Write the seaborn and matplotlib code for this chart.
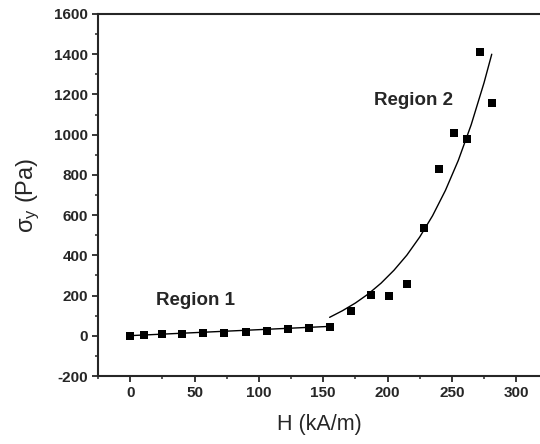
import matplotlib
matplotlib.use("Agg")
import matplotlib.pyplot as plt
from matplotlib.ticker import MultipleLocator
import seaborn as sns
import pandas as pd

# measured points, region 1
h_r1 = [0, 10.9, 24.6, 40.6, 56.7, 73, 89.9, 106.7, 123, 139, 155]
s_r1 = [0, 2.5, 7.5, 9, 12, 15, 19, 25, 32, 39, 45]

# measured points, region 2
h_r2 = [171.5, 187, 201.5, 215.5, 228.5, 240, 251.6, 262, 271.8, 281]
s_r2 = [125, 201, 200, 256, 538, 828, 1007, 980, 1410, 1159]

# fitted curves
h_fit1 = [0, 155]
s_fit1 = [1, 47]
h_fit2 = [155, 165, 175, 185, 195, 205, 215, 225, 235, 245, 255, 265, 275, 281]
s_fit2 = [92, 125, 163, 208, 262, 326, 401, 491, 597, 723, 872, 1049, 1258, 1400]

sns.set_style("ticks")
plt.rcParams['font.family'] = ['Liberation Sans', 'DejaVu Sans']
plt.rcParams['mathtext.fontset'] = 'custom'
plt.rcParams['mathtext.rm'] = 'Liberation Sans'
plt.rcParams['mathtext.it'] = 'Liberation Sans'
plt.rcParams['axes.unicode_minus'] = False

pts = pd.DataFrame({"H": h_r1 + h_r2, "s": s_r1 + s_r2})

fig = plt.figure(figsize=(5.4, 4.44), dpi=100)
ax = fig.add_axes([0.1815, 0.153, 0.8185, 0.8155])

sns.lineplot(x=h_fit1, y=s_fit1, ax=ax, color="black", linewidth=1.0)
sns.lineplot(x=h_fit2, y=s_fit2, ax=ax, color="black", linewidth=1.0)
sns.scatterplot(data=pts, x="H", y="s", ax=ax, marker="s", s=26,
                color="black", edgecolor="black", linewidth=0, zorder=3)

ax.set_xlim(-25, 318.5)
ax.set_ylim(-200, 1600)
ax.xaxis.set_major_locator(MultipleLocator(50))
ax.xaxis.set_minor_locator(MultipleLocator(25))
ax.yaxis.set_major_locator(MultipleLocator(200))
ax.yaxis.set_minor_locator(MultipleLocator(100))

ax.spines['right'].set_visible(False)
for sp in ['left', 'bottom', 'top']:
    ax.spines[sp].set_linewidth(1.5)

ax.tick_params(which='major', direction='out', length=4.5, width=1.3, labelsize=11, pad=2.5)
ax.tick_params(which='minor', direction='out', length=2.5, width=1.1)
for lab in ax.get_xticklabels() + ax.get_yticklabels():
    lab.set_fontweight('bold')

ax.set_xlabel("H (kA/m)", fontsize=15.5, labelpad=10)
ax.set_ylabel(r"$\sigma_y$ (Pa)", fontsize=17, labelpad=9)

ax.text(20, 178, "Region 1", fontsize=13.5, fontweight='bold', va='center')
ax.text(189.6, 1168, "Region 2", fontsize=13.5, fontweight='bold', va='center')

fig.savefig("out.png", dpi=100)
